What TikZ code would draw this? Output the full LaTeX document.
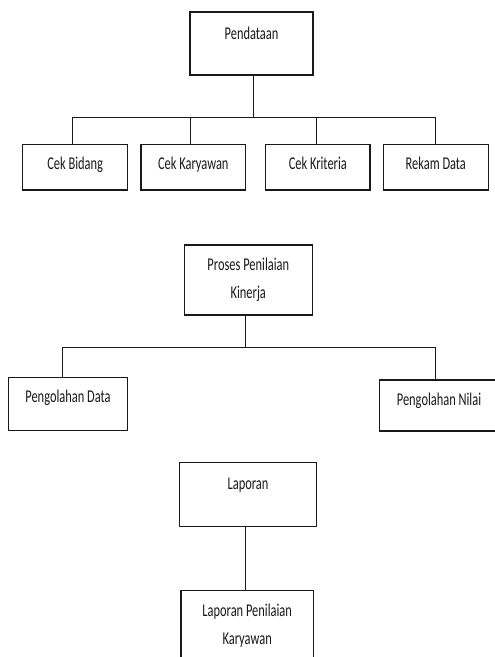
\documentclass[tikz,border=0pt]{standalone}
\usepackage{fontspec}
\usepackage{graphicx}
\newfontfamily\boxfont{Carlito}
% condensed text, as the labels are set narrow
\newcommand{\narrow}[1]{\scalebox{0.69}[1]{#1}}
% two centred lines whose first baseline is the baseline of the whole block
\newcommand{\stackedtext}[2]{\narrow{\begin{tabular}[t]{@{}c@{}}#1\\#2\end{tabular}}}
\begin{document}
\begin{tikzpicture}[x=1pt,y=-1pt,
  box/.style={draw=black!90, line width=1.2pt, inner sep=0pt,
    font=\boxfont\fontsize{18}{28}\selectfont, text=black!90},
  link/.style={draw=black!90, line width=1pt},
]
\clip (0,0) rectangle (495,657);
\fill[white] (0,0) rectangle (495,657);

% --- Pendataan and its four sub-processes ---
\node[box, minimum width=123pt, minimum height=63pt, text height=27pt, text depth=36pt]
  (pend) at (251.5,43.5) {\narrow{Pendataan}};
\node[box, minimum width=105pt, minimum height=45.7pt, text height=25pt, text depth=20.7pt]
  (cb) at (75.2,167.1) {\narrow{Cek Bidang}};
\node[box, minimum width=104.7pt, minimum height=45.7pt, text height=25pt, text depth=20.7pt]
  (ck) at (193.3,167.1) {\narrow{Cek Karyawan}};
\node[box, minimum width=104.3pt, minimum height=45.7pt, text height=25pt, text depth=20.7pt]
  (ckr) at (317.8,167.1) {\narrow{Cek Kriteria}};
\node[box, minimum width=105pt, minimum height=45.7pt, text height=25pt, text depth=20.7pt]
  (rd) at (435.8,167.1) {\narrow{Rekam Data}};

\draw[link] ([xshift=1.5pt]pend.south) -- ++(0,41.7) -| ([xshift=-2.5pt]cb.north);
\draw[link] ([xshift=1.5pt]pend.south) -- ++(0,41.7) -| ([xshift=-3.3pt]ck.north);
\draw[link] ([xshift=1.5pt]pend.south) -- ++(0,41.7) -| ([xshift=-1.1pt]ckr.north);
\draw[link] ([xshift=1.5pt]pend.south) -- ++(0,41.7) -| ([xshift=-0.8pt]rd.north);

% --- Proses Penilaian Kinerja ---
\node[box, minimum width=128pt, minimum height=70pt, text height=25.7pt, text depth=44.3pt]
  (pk) at (248.3,280) {\stackedtext{Proses Penilaian}{Kinerja}};
\node[box, minimum width=119.4pt, minimum height=53pt, text height=25pt, text depth=28pt]
  (pdat) at (68,404.2) {\narrow{Pengolahan Data}};
\node[box, minimum width=119.4pt, minimum height=51pt, text height=25.7pt, text depth=25.3pt]
  (pnil) at (439,405.5) {\narrow{Pengolahan Nilai}};

\draw[link] ([xshift=-2.6pt]pk.south) -- ++(0,32.3) -| ([xshift=-5.3pt]pdat.north);
\draw[link] ([xshift=-2.6pt]pk.south) -- ++(0,32.3) -| ([xshift=-4pt]pnil.north);

% --- Laporan ---
\node[box, minimum width=137.4pt, minimum height=64.4pt, text height=27pt, text depth=37.4pt]
  (lap) at (248,494.5) {\narrow{Laporan}};
\node[box, minimum width=132.3pt, minimum height=70pt, text height=25.3pt, text depth=44.7pt]
  (lpk) at (247.2,625.7) {\stackedtext{Laporan Penilaian}{Karyawan}};

\draw[link] ([xshift=-2.3pt]lap.south) -- ([xshift=-1.5pt]lpk.north);
\end{tikzpicture}
\end{document}
